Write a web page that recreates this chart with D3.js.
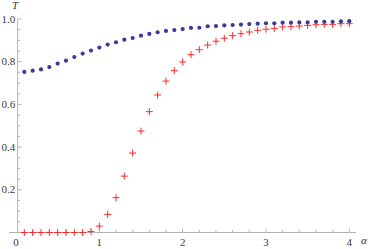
<!DOCTYPE html>
<html>
<head>
<meta charset="utf-8">
<script src="https://cdn.jsdelivr.net/npm/d3@7"></script>
<style>
  html, body { margin: 0; padding: 0; background: #fff; }
  svg { display: block; }
  text { font-family: "Liberation Serif", "DejaVu Serif", serif; }
</style>
</head>
<body>
<svg id="chart" width="368" height="249"></svg>
<script>
var alphas = [0.1,0.2,0.3,0.4,0.5,0.6,0.7,0.8,0.9,1.0,1.1,1.2,1.3,1.4,1.5,1.6,1.7,1.8,1.9,2.0,
              2.1,2.2,2.3,2.4,2.5,2.6,2.7,2.8,2.9,3.0,3.1,3.2,3.3,3.4,3.5,3.6,3.7,3.8,3.9,4.0]
var blueT = [0.752,0.758,0.764,0.775,0.791,0.805,0.822,0.838,0.852,0.866,0.880,0.891,0.903,0.911,0.922,0.930,0.938,0.944,0.948,0.953,
             0.958,0.959,0.966,0.967,0.970,0.972,0.974,0.976,0.978,0.980,0.980,0.983,0.983,0.984,0.984,0.987,0.987,0.987,0.989,0.990]
var redT = [0,0,0,0,0,0,0,0,0.005,0.030,0.085,0.163,0.264,0.372,0.475,0.566,0.644,0.709,0.758,0.799,
            0.833,0.856,0.878,0.896,0.910,0.922,0.931,0.939,0.947,0.952,0.956,0.963,0.964,0.967,0.970,0.973,0.975,0.975,0.978,0.978]
var xTicks = [0,1,2,3,4]
var yTicks = [0.2,0.4,0.6,0.8,1.0]

var svg = d3.select('#chart')
var x = d3.scaleLinear().domain([0, 4]).range([16, 349.3])
var y = d3.scaleLinear().domain([0, 1]).range([232.5, 19])
var axisColor = '#b3b3b3'
var labelColor = '#3a3a3a'
var originX = x(0.02)

// x axis
var xMinor = d3.range(0, 4.01, 0.2).filter(function(d){ return d > 0.03 })
var gx = svg.append('g').attr('transform', 'translate(0,' + y(0) + ')')
gx.append('line')
  .attr('x1', 9).attr('x2', 356)
  .attr('stroke', axisColor)
gx.selectAll('line.minor').data(xMinor).enter()
  .append('line')
  .attr('class', 'minor')
  .attr('x1', function(d){ return x(d) }).attr('x2', function(d){ return x(d) })
  .attr('y1', 0).attr('y2', function(d){ return Math.abs(d - Math.round(d)) < 0.01 ? -4 : -2.5 })
  .attr('stroke', axisColor)
gx.selectAll('text').data(xTicks).enter()
  .append('text')
  .attr('x', function(d){ return x(d) })
  .attr('y', 13.5)
  .attr('text-anchor', 'middle')
  .attr('font-size', '11px')
  .attr('fill', labelColor)
  .text(function(d){ return d })

// y axis
var yMinor = d3.range(0.05, 1.001, 0.05)
var gy = svg.append('g').attr('transform', 'translate(' + originX + ',0)')
gy.append('line')
  .attr('y1', y(0)).attr('y2', y(1))
  .attr('stroke', axisColor)
gy.selectAll('line.minor').data(yMinor).enter()
  .append('line')
  .attr('class', 'minor')
  .attr('y1', function(d){ return y(d) }).attr('y2', function(d){ return y(d) })
  .attr('x1', 0).attr('x2', function(d){ return Math.abs(d * 5 - Math.round(d * 5)) < 0.01 ? 4 : 2.5 })
  .attr('stroke', axisColor)
gy.selectAll('text').data(yTicks).enter()
  .append('text')
  .attr('x', -2.5)
  .attr('y', function(d){ return y(d) + 3.5 })
  .attr('text-anchor', 'end')
  .attr('font-size', '11px')
  .attr('fill', labelColor)
  .text(function(d){ return d3.format('.1f')(d) })

// axis labels
svg.append('text')
  .attr('x', 15).attr('y', 9)
  .attr('text-anchor', 'middle')
  .attr('font-style', 'italic')
  .attr('font-size', '11px')
  .attr('fill', labelColor)
  .text('T')
svg.append('text')
  .attr('x', 364).attr('y', 244)
  .attr('text-anchor', 'middle')
  .attr('font-style', 'italic')
  .attr('font-size', '11px')
  .attr('fill', labelColor)
  .text('α')

// red crosses
var red = alphas.map(function(a, i){ return [a, redT[i]] })
svg.append('g').selectAll('path').data(red).enter()
  .append('path')
  .attr('d', function(d){
    var cx = x(d[0]), cy = y(d[1]), r = 3.5
    return 'M' + (cx - r) + ',' + cy + 'H' + (cx + r) + 'M' + cx + ',' + (cy - r) + 'V' + (cy + r)
  })
  .attr('stroke', '#ff2a2a')
  .attr('stroke-width', 1)
  .attr('fill', 'none')

// blue dots
var blue = alphas.map(function(a, i){ return [a, blueT[i]] })
svg.append('g').selectAll('circle').data(blue).enter()
  .append('circle')
  .attr('cx', function(d){ return x(d[0]) })
  .attr('cy', function(d){ return y(d[1]) })
  .attr('r', 2.1)
  .attr('fill', '#3b3b9c')
</script>
</body>
</html>
